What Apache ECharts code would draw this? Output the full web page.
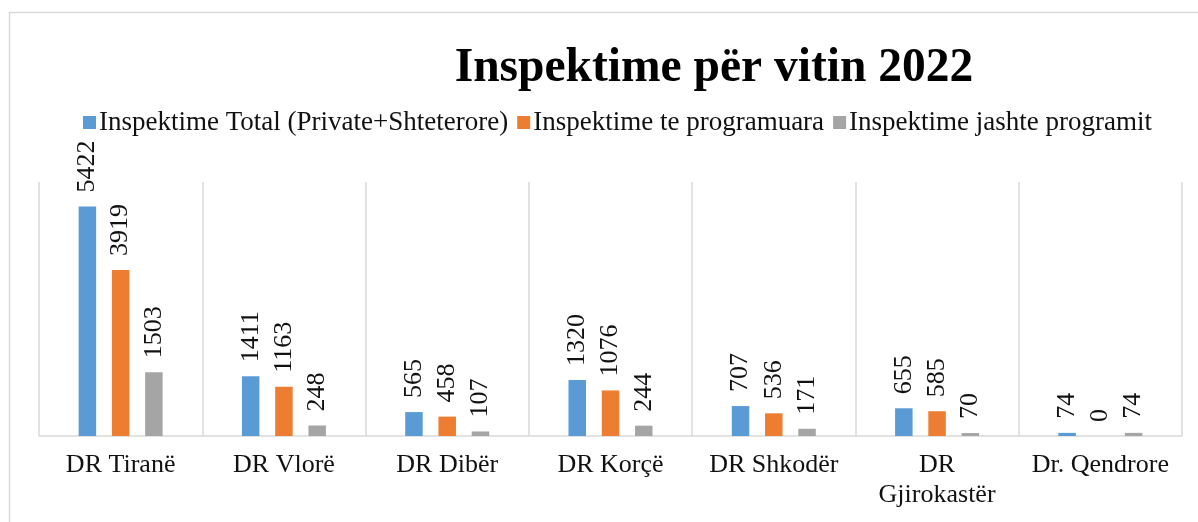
<!DOCTYPE html>
<html>
<head>
<meta charset="utf-8">
<script src="https://cdn.jsdelivr.net/npm/echarts@6/dist/echarts.min.js"></script>
<style>
  html, body { margin: 0; padding: 0; background: #fff; }
  #chart { width: 1198px; height: 522px; }
</style>
</head>
<body>
<div id="chart"></div>
<script>
const categories = ["DR Tiranë", "DR Vlorë", "DR Dibër", "DR Korçë", "DR Shkodër", "DR\nGjirokastër", "Dr. Qendrore"];
const seriesNames = ["Inspektime Total (Private+Shteterore)", "Inspektime te programuara", "Inspektime jashte programit"];
const totalValues = [5422, 1411, 565, 1320, 707, 655, 74];
const plannedValues = [3919, 1163, 458, 1076, 536, 585, 0];
const unplannedValues = [1503, 248, 107, 244, 171, 70, 74];
const colors = ["#5b9bd5", "#ed7d31", "#a5a5a5"];

const font = "'Liberation Serif', 'Times New Roman', serif";
const chart = echarts.init(document.getElementById("chart"));

// one bar series with a rotated value label on top
const makeSeries = (name, values, color) => ({
  name,
  type: "bar",
  data: values,
  barWidth: 17.5,
  barGap: "90%",
  itemStyle: { color },
  label: {
    show: true,
    position: "top",
    rotate: 90,
    align: "left",
    verticalAlign: "middle",
    distance: 14,
    fontFamily: font,
    fontSize: 26,
    color: "#111",
  },
});

chart.setOption({
  animation: false,
  textStyle: { fontFamily: font },
  title: {
    text: "Inspektime për vitin 2022",
    left: 709,
    textAlign: "center",
    top: 40,
    textStyle: { fontFamily: font, fontSize: 47.5, fontWeight: "bold", color: "#000" },
  },
  legend: {
    left: 78,
    top: 104,
    itemWidth: 13,
    itemHeight: 13,
    itemGap: 9,
    icon: "rect",
    textStyle: { fontFamily: font, fontSize: 27, color: "#111", padding: [0, 0, 0, -2] },
  },
  graphic: [
    {
      type: "rect",
      shape: { x: 9.5, y: 12.5, width: 1300, height: 600 },
      style: { fill: "none", stroke: "#d9d9d9", lineWidth: 1.5 },
      silent: true,
    },
  ],
  grid: { left: 39, right: 16, top: 182, bottom: 86, containLabel: false },
  xAxis: {
    type: "category",
    data: categories,
    axisLine: { lineStyle: { color: "#d9d9d9", width: 1.5 } },
    axisTick: { show: false },
    splitLine: { show: true, lineStyle: { color: "#d9d9d9", width: 1.5 } },
    axisLabel: {
      fontFamily: font,
      fontSize: 26,
      color: "#111",
      margin: 14,
      lineHeight: 30,
      interval: 0,
    },
  },
  yAxis: {
    type: "value",
    min: 0,
    max: 6000,
    show: false,
    splitLine: { show: false },
  },
  series: [
    makeSeries(seriesNames[0], totalValues, colors[0]),
    makeSeries(seriesNames[1], plannedValues, colors[1]),
    makeSeries(seriesNames[2], unplannedValues, colors[2]),
  ],
});
</script>
</body>
</html>
